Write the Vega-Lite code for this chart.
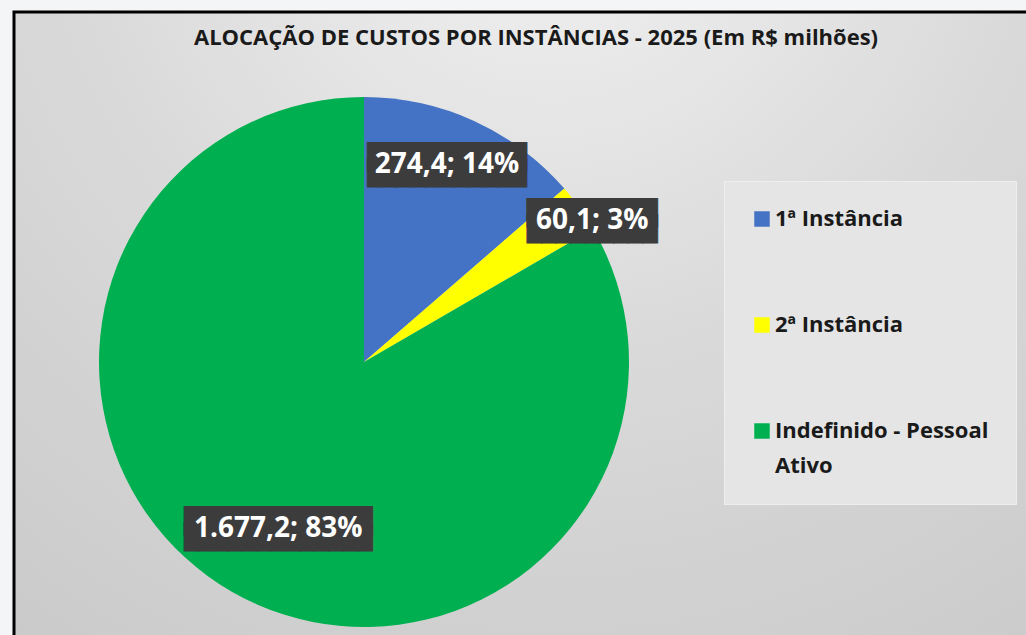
{
  "$schema": "https://vega.github.io/schema/vega-lite/v6.json",
  "width": 1030,
  "height": 640,
  "autosize": {"type": "none"},
  "padding": {"left": 14, "top": 12, "right": 0, "bottom": 0},
  "background": "#f4f5f7",
  "config": {
    "view": {
      "stroke": "#000000",
      "strokeWidth": 3,
      "fill": {
        "gradient": "radial",
        "x1": 0.52, "y1": 0.05, "r1": 0,
        "x2": 0.52, "y2": 0.05, "r2": 1.1,
        "stops": [
          {"offset": 0, "color": "#f3f3f3"},
          {"offset": 0.42, "color": "#dadada"},
          {"offset": 0.62, "color": "#d2d2d2"},
          {"offset": 1, "color": "#c4c4c4"}
        ]
      }
    },
    "style": {"guide-label": {"lineHeight": 35}}
  },
  "title": {
    "text": "ALOCAÇÃO DE CUSTOS POR INSTÂNCIAS - 2025 (Em R$ milhões)",
    "font": "Open Sans",
    "fontSize": 22,
    "fontWeight": "bold",
    "color": "#1a1a1a",
    "anchor": "middle",
    "frame": "group",
    "orient": "top",
    "offset": 0,
    "baseline": "alphabetic",
    "dx": 7,
    "dy": 55
  },
  "data": {
    "values": [
      {"instancia": "1ª Instância", "valor": 274.4, "rotulo": "274,4; 14%"},
      {"instancia": "2ª Instância", "valor": 60.1, "rotulo": "60,1; 3%"},
      {"instancia": "Indefinido - Pessoal Ativo", "valor": 1677.2, "rotulo": "1.677,2; 83%"}
    ]
  },
  "encoding": {
    "theta": {"field": "valor", "type": "quantitative", "stack": true},
    "order": {"field": "instancia", "type": "ordinal", "sort": "ascending"},
    "x": {"datum": "pizza", "type": "nominal", "scale": {"align": 0.3398}, "axis": null},
    "y": {"datum": "pizza", "type": "nominal", "scale": {"align": 0.5469}, "axis": null}
  },
  "layer": [
    {
      "mark": {"type": "arc", "radius": 265, "stroke": null},
      "encoding": {
        "color": {
          "field": "instancia",
          "type": "nominal",
          "scale": {
            "domain": ["1ª Instância", "2ª Instância", "Indefinido - Pessoal Ativo"],
            "range": ["#4472C4", "#FFFF00", "#00B050"]
          },
          "legend": {
            "orient": "none",
            "legendX": 710,
            "legendY": 169,
            "direction": "vertical",
            "title": null,
            "symbolType": "square",
            "symbolSize": 240,
            "symbolStrokeWidth": 0,
            "labelFont": "Open Sans",
            "labelFontSize": 22,
            "labelFontWeight": "bold",
            "labelColor": "#1a1a1a",
            "labelLimit": 400,
            "labelOffset": 2,
            "labelBaseline": "middle",
            "rowPadding": 84,
            "padding": 27,
            "fillColor": "#e5e5e5",
            "strokeColor": "#eeeeee",
            "labelExpr": "datum.label == 'Indefinido - Pessoal Ativo' ? ['Indefinido - Pessoal', 'Ativo'] : datum.label"
          }
        }
      }
    },
    {
      "transform": [
        {"calculate": "[pad('', length(datum.rotulo) + 1, '█'), pad('', length(datum.rotulo) + 1, '█')]", "as": "caixa"}
      ],
      "mark": {
        "type": "text",
        "font": "DejaVu Sans Mono",
        "fontSize": 24,
        "lineHeight": 16,
        "align": "center",
        "baseline": "middle",
        "color": "#3c3c3c",
        "stroke": "#3c3c3c",
        "strokeWidth": 1,
        "radius": {"expr": "datum.instancia == '1ª Instância' ? 214 : datum.instancia == '2ª Instância' ? 268 : 188"},
        "dx": {"expr": "datum.instancia == '1ª Instância' ? -6 : datum.instancia == '2ª Instância' ? 10 : 8"},
        "dy": {"expr": "datum.instancia == '1ª Instância' ? -9 : datum.instancia == '2ª Instância' ? 8 : -3"}
      },
      "encoding": {
        "detail": {"field": "instancia", "type": "nominal"},
        "text": {"field": "caixa", "type": "nominal"}
      }
    },
    {
      "mark": {
        "type": "text",
        "font": "Open Sans",
        "fontSize": 28,
        "fontWeight": "bold",
        "align": "center",
        "baseline": "middle",
        "color": "#ffffff",
        "radius": {"expr": "datum.instancia == '1ª Instância' ? 214 : datum.instancia == '2ª Instância' ? 268 : 188"},
        "dx": {"expr": "datum.instancia == '1ª Instância' ? -6 : datum.instancia == '2ª Instância' ? 10 : 8"},
        "dy": {"expr": "datum.instancia == '1ª Instância' ? -2 : datum.instancia == '2ª Instância' ? 15 : 4"}
      },
      "encoding": {
        "detail": {"field": "instancia", "type": "nominal"},
        "text": {"field": "rotulo", "type": "nominal"}
      }
    }
  ]
}
